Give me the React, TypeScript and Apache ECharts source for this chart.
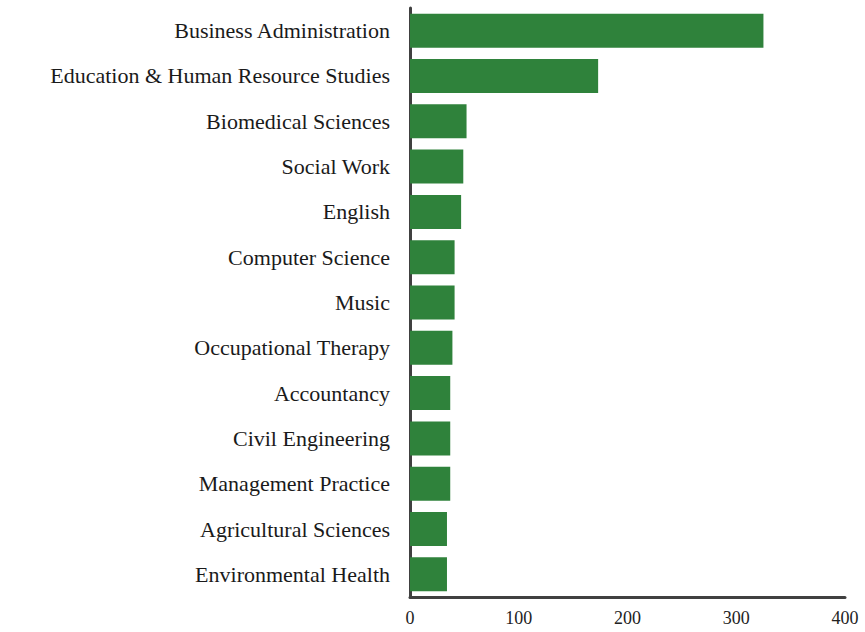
import React, { useEffect, useRef } from "react";
import * as echarts from "echarts";

const categories = [
  "Business Administration",
  "Education & Human Resource Studies",
  "Biomedical Sciences",
  "Social Work",
  "English",
  "Computer Science",
  "Music",
  "Occupational Therapy",
  "Accountancy",
  "Civil Engineering",
  "Management Practice",
  "Agricultural Sciences",
  "Environmental Health",
];

const values = [325, 173, 52, 49, 47, 41, 41, 39, 37, 37, 37, 34, 34];

const xTicks = { min: 0, max: 400, interval: 100 };

export default function App() {
  const ref = useRef<HTMLDivElement>(null);
  useEffect(() => {
    if (!ref.current) return;
    const chart = echarts.init(ref.current, undefined, { renderer: "svg" });
    const font = "'Liberation Serif', 'Times New Roman', serif";
    chart.setOption({
      animation: false,
      backgroundColor: "#ffffff",
      grid: { left: 410, right: 20, top: 8, bottom: 35, containLabel: false },
      xAxis: {
        type: "value",
        min: xTicks.min,
        max: xTicks.max,
        interval: xTicks.interval,
        axisLine: { show: true, lineStyle: { color: "#404040", width: 3 } },
        axisTick: { show: false },
        splitLine: { show: false },
        axisLabel: { color: "#222222", fontSize: 18, fontFamily: font, margin: 12 },
      },
      yAxis: {
        type: "category",
        data: categories,
        inverse: true,
        axisLine: { show: true, lineStyle: { color: "#404040", width: 3 } },
        axisTick: { show: false },
        splitLine: { show: false },
        axisLabel: { color: "#1a1a1a", fontSize: 22, fontFamily: font, margin: 20 },
      },
      series: [
        {
          type: "bar",
          data: values,
          barWidth: 34,
          itemStyle: { color: "#2F823B" },
        },
      ],
    });
    return () => chart.dispose();
  }, []);
  return (
    <div
      ref={ref}
      style={{ position: "fixed", left: 0, top: 0, width: 865, height: 632 }}
    />
  );
}
